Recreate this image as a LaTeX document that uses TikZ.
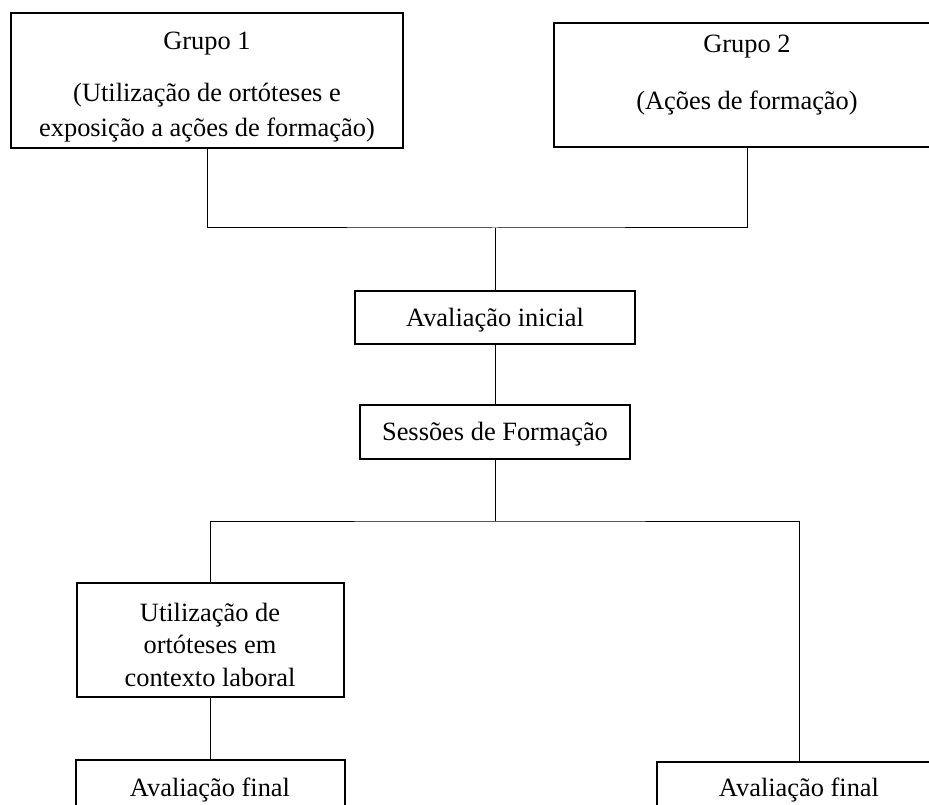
\documentclass[tikz,border=0pt]{standalone}
\usepackage{fontspec}
\setmainfont{Liberation Serif}
\usetikzlibrary{fit}

\begin{document}
\begin{tikzpicture}[x=0.4545pt, y=-0.4545pt, font=\fontsize{12}{15}\selectfont,
  box/.style={draw, line width=0.9pt, inner sep=0pt},
  link/.style={line width=0.45pt},
  lbl/.style={anchor=base, inner sep=0pt}]
  \clip (0,0) rectangle (929,805);
  % boxes
  \node[box, fit={(11,13) (403,148)}] (g1) {};
  \node[box, fit={(554,23) (940,147)}] (g2) {};
  \node[box, fit={(355,291) (635,344)}] (ini) {};
  \node[box, fit={(360,405) (630,459)}] (ses) {};
  \node[box, fit={(77,583) (344,697)}] (uso) {};
  \node[box, fit={(76,760) (345,840)}] (fin1) {};
  \node[box, fit={(657,762) (941,840)}] (fin2) {};
  % texts
  \node[lbl] (g1a) at (207,50) {Grupo 1};
  \node[lbl] (g1b) at (207,102) {(Utilização de ortóteses e};
  \node[lbl] (g1c) at (207,137) {exposição a ações de formação)};
  \node[lbl] (g2a) at (747,53) {Grupo 2};
  \node[lbl] (g2b) at (747,110) {(Ações de formação)};
  \node[lbl] (inia) at (495,327) {Avaliação inicial};
  \node[lbl] (sesa) at (495,441) {Sessões de Formação};
  \node[lbl] (usoa) at (210,621) {Utilização de};
  \node[lbl] (usob) at (210,653) {ortóteses em};
  \node[lbl] (usoc) at (210,686) {contexto laboral};
  \node[lbl] (fin1a) at (210,796) {Avaliação final};
  \node[lbl] (fin2a) at (799,796) {Avaliação final};
  % connectors
  \coordinate (join) at (495,228);
  \coordinate (split) at (495,521);
  \draw[link] (g1.south) |- (join) -| (g2.south);
  \draw[link] (join) -- (ini.north);
  \draw[link] (ini.south) -- (ses.north);
  \draw[link] (ses.south) -- (split);
  \draw[link] (uso.north) |- (split) -| (fin2.north);
  \draw[link] (uso.south) -- (fin1.north);
\end{tikzpicture}
\end{document}
